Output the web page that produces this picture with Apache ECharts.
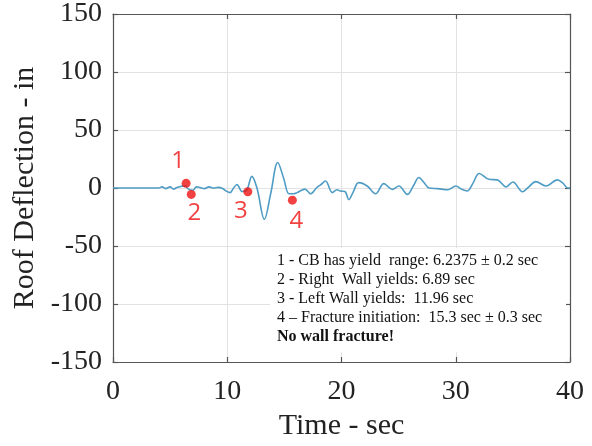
<!DOCTYPE html>
<html>
<head>
<meta charset="utf-8">
<script src="https://cdn.jsdelivr.net/npm/echarts@6/dist/echarts.min.js"></script>
<style>html,body{margin:0;padding:0;background:#fff;}#c{width:592px;height:446px;}</style>
</head>
<body>
<div id="c"></div>
<script>
var timeSec = [0, 2, 4, 4.3, 4.6, 5.0, 5.3, 5.6, 6.0, 6.3, 6.6, 7.0, 7.3, 7.6, 8.0, 8.4, 8.8, 9.2, 9.6, 9.9, 10.25, 10.55, 10.85, 11.3, 11.7, 12.15, 12.6, 13.25, 13.8, 14.42, 14.95, 15.4, 15.8, 16.1, 16.5, 16.8, 17.3, 17.8, 18.2, 18.6, 19.2, 19.6, 19.9, 20.3, 20.64, 21.0, 21.5, 22.25, 22.98, 23.7, 24.45, 25.03, 25.76, 26.3, 26.78, 27.2, 27.66, 28.4, 29.3, 30.0, 30.5, 31.0, 31.5, 32.05, 32.9, 33.65, 34.4, 35.0, 35.85, 36.4, 37.0, 37.9, 38.9, 39.4, 39.8, 40];
var deflection = [0, 0, 0, 1, -0.5, 1, -1, 0.5, 1.5, 2, -1, -2, 1, 0.5, -0.5, 1, 0, 0.5, -0.5, -2.6, -4, 0, 3, -3, -2, 10, 0, -27, -5, 22, 8, -5, -5, -4, -2, -1, -5, 0, 3, 6, -4, -1.5, -2.6, -3, -10, -4, 4.6, 1.7, -5, 3.8, -1.2, 1.7, -5.5, 2, 9, 5, 0, -0.5, -1.5, 1.7, -1, -2.6, 4, 12.5, 7.5, 7, 0.9, 5.2, -3.2, 1, 5.5, 1.7, 7, 4, 0, 0];
var eventTime = [6.4, 6.85, 11.8, 15.7];
var eventValue = [4, -5.5, -3.2, -10.5];
var eventLabel = ['1', '2', '3', '4'];
var xTicks = [0, 10, 20, 30, 40];
var yTicks = [-150, -100, -50, 0, 50, 100, 150];
var notes = [
  '1 - CB has yield  range: 6.2375 \u00b1 0.2 sec',
  '2 - Right  Wall yields: 6.89 sec',
  '3 - Left Wall yields:  11.96 sec',
  '4 \u2013 Fracture initiation:  15.3 sec \u00b1 0.3 sec',
  'No wall fracture!'
];

var labelOffsets = [[-8, -22], [3, 19], [-7, 19], [4, 21]];
var lineData = timeSec.map(function (t, i) { return [t, deflection[i]]; });
var eventData = eventTime.map(function (t, i) {
  return {
    value: [t, eventValue[i]],
    label: { show: true, formatter: eventLabel[i], offset: labelOffsets[i] }
  };
});

var serif = '"Liberation Serif", "Times New Roman", serif';
var chart = echarts.init(document.getElementById('c'), null, { renderer: 'canvas' });
var axisLineStyle = { color: '#555', width: 1.2 };
var gridStyle = { color: '#e2e2e2', width: 1 };

var noteGraphics = [{
  type: 'rect',
  shape: { x: 270, y: 248, width: 296, height: 104 },
  style: { fill: '#fff' },
  z: 50
}];
notes.forEach(function (s, i) {
  noteGraphics.push({
    type: 'text',
    left: 277,
    top: 253 + i * 19,
    z: 51,
    style: {
      text: s,
      font: (i === 4 ? 'bold ' : '') + '16px ' + serif,
      fill: '#111'
    }
  });
});

chart.setOption({
  animation: false,
  backgroundColor: '#fff',
  grid: { left: 113, right: 22, top: 14, bottom: 84 },
  xAxis: [{
    type: 'value', min: xTicks[0], max: xTicks[xTicks.length - 1], interval: 10,
    name: 'Time - sec', nameLocation: 'middle', nameGap: 47,
    nameTextStyle: { fontFamily: serif, fontSize: 30, color: '#222' },
    axisLine: { show: true, onZero: false, lineStyle: axisLineStyle },
    axisTick: { show: true, inside: true, length: 5, lineStyle: axisLineStyle },
    axisLabel: { fontFamily: serif, fontSize: 28, color: '#222', margin: 16 },
    splitLine: { show: true, lineStyle: gridStyle }
  }, {
    type: 'value', position: 'top', min: xTicks[0], max: xTicks[xTicks.length - 1], interval: 10,
    axisLine: { show: true, onZero: false, lineStyle: axisLineStyle },
    axisTick: { show: true, inside: true, length: 5, lineStyle: axisLineStyle },
    axisLabel: { show: false }, splitLine: { show: false }
  }],
  yAxis: [{
    type: 'value', min: yTicks[0], max: yTicks[yTicks.length - 1], interval: 50,
    name: 'Roof Deflection - in', nameLocation: 'middle', nameGap: 59,
    nameTextStyle: { fontFamily: serif, fontSize: 30, color: '#222' },
    axisLine: { show: true, onZero: false, lineStyle: axisLineStyle },
    axisTick: { show: true, inside: true, length: 5, lineStyle: axisLineStyle },
    axisLabel: { fontFamily: serif, fontSize: 28, color: '#222', margin: 11 },
    splitLine: { show: true, lineStyle: gridStyle }
  }, {
    type: 'value', position: 'right', min: yTicks[0], max: yTicks[yTicks.length - 1], interval: 50,
    axisLine: { show: true, onZero: false, lineStyle: axisLineStyle },
    axisTick: { show: true, inside: true, length: 5, lineStyle: axisLineStyle },
    axisLabel: { show: false }, splitLine: { show: false }
  }],
  series: [{
    type: 'line',
    data: lineData,
    smooth: 0.35,
    showSymbol: false,
    lineStyle: { color: '#4f9cc4', width: 1.6 },
    z: 3
  }, {
    type: 'scatter',
    data: eventData,
    symbolSize: 9,
    itemStyle: { color: '#ee1111' },
    label: { show: true, color: '#ee1111', fontSize: 24, fontFamily: '"Open Sans", "Liberation Sans", sans-serif' },
    z: 4
  }],
  graphic: noteGraphics
});
</script>
</body>
</html>
